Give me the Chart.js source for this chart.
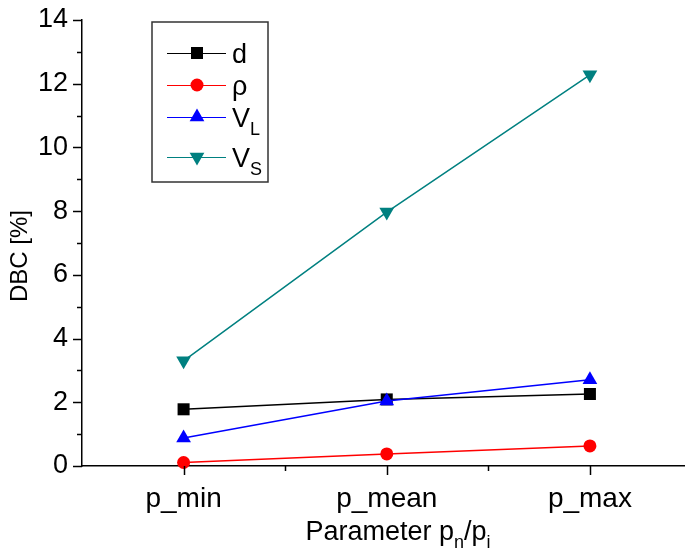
<!DOCTYPE html>
<html>
<head>
<meta charset="utf-8">
<script src="https://cdn.jsdelivr.net/npm/chart.js@4"></script>
<style>
  html, body { margin: 0; padding: 0; background: #fff; overflow: hidden; }
  #wrap { width: 700px; height: 558px; }
</style>
</head>
<body>
<div id="wrap"><canvas id="dbcChart" width="700" height="558"></canvas></div>
<script>
// values
const categories = ['p_min', 'p_mean', 'p_max'];
const dValues = [1.78, 2.09, 2.26];
const rhoValues = [0.11, 0.38, 0.63];
const vlValues = [0.88, 2.04, 2.71];
const vsValues = [3.30, 7.97, 12.28];

const seriesNames = ['d', 'ρ', 'V', 'V'];
const seriesSubs = ['', '', 'L', 'S'];
const seriesColors = ['#000000', '#ff0000', '#0000ff', '#008080'];

const yMin = 0, yMax = 14, yStep = 2;
const FONT = '"Liberation Sans", Arial, sans-serif';

function makeSet(i, values, style, radius, rotation, order) {
    return {
        label: seriesNames[i] + seriesSubs[i],
        data: values,
        borderColor: seriesColors[i],
        backgroundColor: seriesColors[i],
        pointBackgroundColor: seriesColors[i],
        pointBorderColor: seriesColors[i],
        borderWidth: 1.5,
        pointStyle: style,
        pointRadius: radius,
        pointRotation: rotation,
        pointBorderWidth: 0,
        tension: 0,
        clip: false,
        order: order
    };
}

// draw text with an optional subscript, returns width
function subText(ctx, base, sub, x, y, size, measureOnly) {
    ctx.font = size + 'px ' + FONT;
    const w1 = ctx.measureText(base).width;
    ctx.font = Math.round(size * 0.68) + 'px ' + FONT;
    const w2 = sub ? ctx.measureText(sub).width : 0;
    if (!measureOnly) {
        ctx.font = size + 'px ' + FONT;
        ctx.fillText(base, x, y);
        if (sub) {
            ctx.font = Math.round(size * 0.68) + 'px ' + FONT;
            ctx.fillText(sub, x + w1, y + size * 0.3);
        }
    }
    return w1 + w2;
}

const decorPlugin = {
    id: 'decor',
    afterDraw(chart) {
        const ctx = chart.ctx;
        const xs = chart.scales.x, ys = chart.scales.y;
        const area = chart.chartArea;
        ctx.save();
        ctx.strokeStyle = '#000';
        ctx.lineWidth = 1.5;

        // y ticks, major every 2, minor between
        for (let v = yMin; v <= yMax; v += 1) {
            const py = Math.round(ys.getPixelForValue(v)) + 0.5;
            const len = (v % yStep === 0) ? 9 : 5;
            ctx.beginPath();
            ctx.moveTo(area.left - len, py);
            ctx.lineTo(area.left, py);
            ctx.stroke();
        }
        // x ticks, major at categories, minor half way
        for (let i = 0; i < categories.length; i++) {
            const px = Math.round(xs.getPixelForValue(i)) + 0.5;
            ctx.beginPath();
            ctx.moveTo(px, area.bottom);
            ctx.lineTo(px, area.bottom + 9);
            ctx.stroke();
            if (i < categories.length - 1) {
                const mx = Math.round((xs.getPixelForValue(i) + xs.getPixelForValue(i + 1)) / 2) + 0.5;
                ctx.beginPath();
                ctx.moveTo(mx, area.bottom);
                ctx.lineTo(mx, area.bottom + 5);
                ctx.stroke();
            }
        }

        // axis titles
        ctx.fillStyle = '#000';
        ctx.textBaseline = 'alphabetic';
        ctx.save();
        ctx.translate(27, 256);
        ctx.rotate(-Math.PI / 2);
        ctx.textAlign = 'center';
        ctx.font = '24px ' + FONT;
        ctx.fillText('DBC [%]', 0, 0);
        ctx.restore();

        ctx.textAlign = 'left';
        const tSize = 27;
        const parts = [['Parameter p', 'n'], ['/p', 'i']];
        let total = 0;
        parts.forEach(p => { total += subText(ctx, p[0], p[1], 0, 0, tSize, true); });
        let tx = 398 - total / 2;
        parts.forEach(p => { tx += subText(ctx, p[0], p[1], tx, 540, tSize, false); });

        // legend box
        const box = { left: 152, top: 22, right: 268, bottom: 182 };
        ctx.strokeStyle = '#333';
        ctx.lineWidth = 1.5;
        ctx.strokeRect(box.left, box.top, box.right - box.left, box.bottom - box.top);
        const rowY = [53, 85, 117, 157];
        chart.data.datasets.forEach((ds, i) => {
            const y = rowY[i];
            ctx.strokeStyle = ds.borderColor;
            ctx.lineWidth = 1;
            ctx.beginPath();
            ctx.moveTo(167, y + 0.5);
            ctx.lineTo(226, y + 0.5);
            ctx.stroke();
            ctx.fillStyle = ds.backgroundColor;
            Chart.helpers.drawPoint(ctx, {
                pointStyle: ds.pointStyle,
                radius: ds.pointRadius,
                rotation: ds.pointRotation,
                borderWidth: 0
            }, 197, y);
            ctx.fillStyle = '#000';
            subText(ctx, seriesNames[i], seriesSubs[i], 232, y + 10, 27, false);
        });
        ctx.restore();
    }
};

new Chart(document.getElementById('dbcChart'), {
    type: 'line',
    data: {
        labels: categories,
        datasets: [
            makeSet(0, dValues, 'rect', 8.5, 0, 4),
            makeSet(1, rhoValues, 'circle', 6.5, 0, 3),
            makeSet(2, vlValues, 'triangle', 8.5, 0, 2),
            makeSet(3, vsValues, 'triangle', 8.5, 180, 1)
        ]
    },
    options: {
        responsive: false,
        animation: false,
        devicePixelRatio: 1,
        layout: { padding: { left: 0, top: 20, right: 6, bottom: 0 } },
        plugins: {
            legend: { display: false },
            tooltip: { enabled: false }
        },
        scales: {
            x: {
                type: 'category',
                offset: true,
                grid: { display: false, drawTicks: false },
                border: { color: '#000', width: 1.5 },
                ticks: {
                    color: '#000',
                    font: { family: FONT, size: 28 },
                    padding: 16,
                    maxRotation: 0
                },
                afterFit(scale) {
                    scale.height = 92;
                    scale.paddingLeft = 0;
                    scale.paddingRight = 0;
                }
            },
            y: {
                min: yMin,
                max: yMax,
                grid: { display: false, drawTicks: false },
                border: { color: '#000', width: 1.5 },
                ticks: {
                    stepSize: yStep,
                    color: '#000',
                    font: { family: FONT, size: 27 },
                    padding: 14
                },
                afterFit(scale) {
                    scale.width = 82;
                    scale.paddingTop = 0;
                    scale.paddingBottom = 0;
                }
            }
        }
    },
    plugins: [decorPlugin]
});
</script>
</body>
</html>
